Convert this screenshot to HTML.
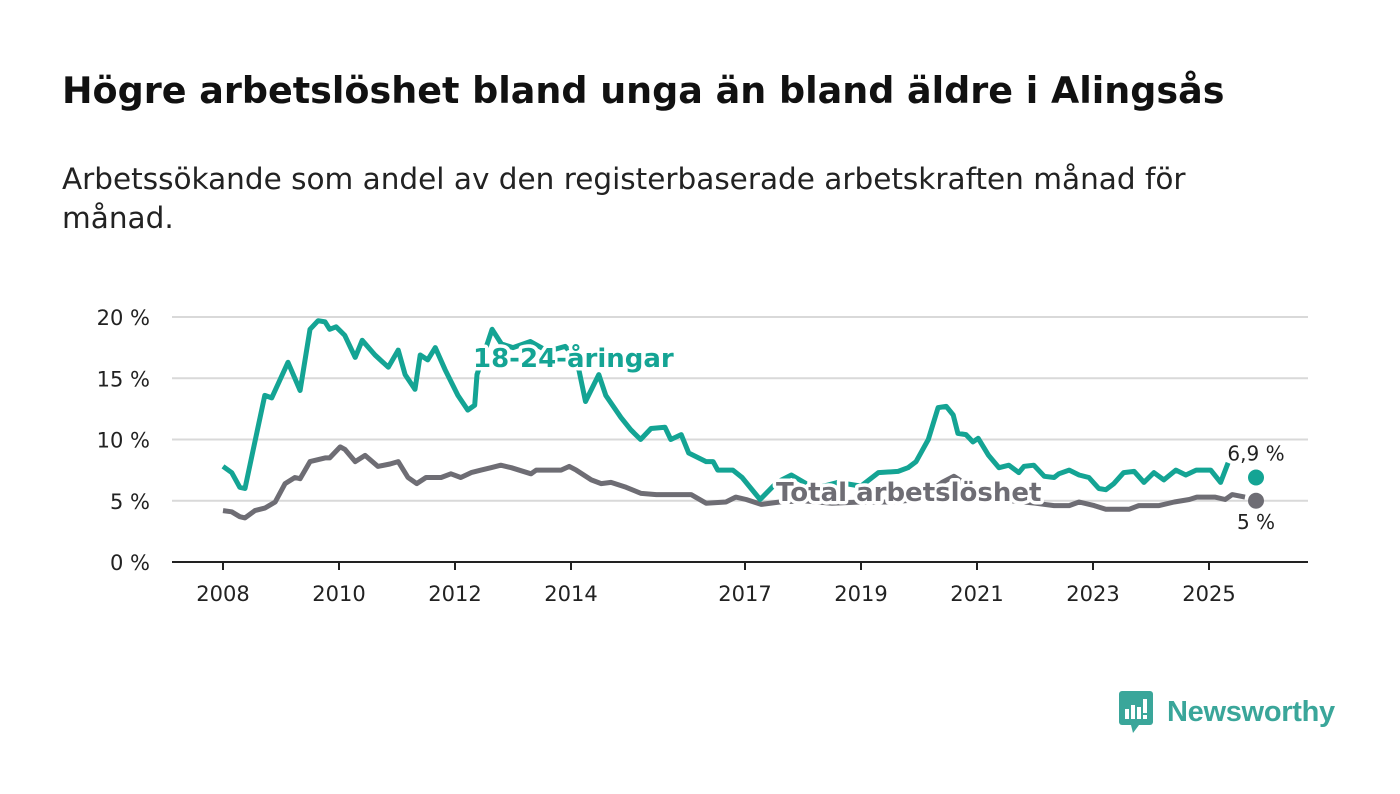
<!DOCTYPE html>
<html><head><meta charset="utf-8">
<style>
body{margin:0;background:#fff;font-family:"DejaVu Sans","Liberation Sans",sans-serif;}
#wrap{position:relative;width:1400px;height:794px;overflow:hidden;}
h1{position:absolute;left:62px;top:69px;margin:0;font-size:36.5px;font-weight:bold;color:#111;white-space:nowrap;}
.sub{position:absolute;left:62px;top:160px;margin:0;font-size:29.5px;line-height:39px;color:#222;width:1300px;white-space:nowrap;}
svg text{font-family:"DejaVu Sans","Liberation Sans",sans-serif;}
</style></head><body>
<div id="wrap">
<h1>Högre arbetslöshet bland unga än bland äldre i Alingsås</h1>
<p class="sub">Arbetssökande som andel av den registerbaserade arbetskraften månad för<br>månad.</p>
<svg id="chart" width="1400" height="794" style="position:absolute;left:0;top:0"></svg>
<div style="position:absolute;left:1119px;top:691px;display:flex;align-items:center;">
<svg width="36" height="42"><rect x="0" y="0" width="34" height="34" rx="3" fill="#3aa69a"/><polygon points="12,34 20,34 14,42" fill="#3aa69a"/><rect x="6" y="18" width="4" height="10" fill="#fff"/><rect x="12" y="14" width="4" height="14" fill="#fff"/><rect x="18" y="16" width="4" height="12" fill="#fff"/><rect x="24" y="8" width="4" height="14" fill="#fff"/><rect x="24" y="24" width="4" height="4" fill="#fff"/></svg>
<span style="font-family:'Liberation Sans',sans-serif;font-size:29px;color:#3aa69a;font-weight:bold;margin-left:12px;letter-spacing:-0.3px">Newsworthy</span>
</div>
</div>
<script>
const yTicks=[0,5,10,15,20];
const yTickLabels=["0 %","5 %","10 %","15 %","20 %"];
const xTicks=[2008,2010,2012,2014,2017,2019,2021,2023,2025];
const youthDates=[2008.0,2008.15,2008.29,2008.38,2008.5,2008.72,2008.84,2009.12,2009.33,2009.5,2009.64,2009.76,2009.84,2009.95,2010.1,2010.28,2010.4,2010.62,2010.85,2011.02,2011.14,2011.31,2011.4,2011.53,2011.66,2011.83,2012.05,2012.22,2012.34,2012.38,2012.64,2012.8,2013.0,2013.3,2013.6,2013.9,2014.1,2014.25,2014.48,2014.6,2014.86,2015.03,2015.2,2015.38,2015.62,2015.72,2015.9,2016.03,2016.33,2016.45,2016.53,2016.79,2016.95,2017.26,2017.55,2017.8,2018.2,2018.6,2019.0,2019.3,2019.64,2019.81,2019.95,2020.16,2020.33,2020.47,2020.59,2020.67,2020.81,2020.93,2021.02,2021.2,2021.38,2021.55,2021.72,2021.81,2021.98,2022.16,2022.33,2022.41,2022.59,2022.76,2022.93,2023.1,2023.22,2023.36,2023.53,2023.71,2023.88,2024.05,2024.22,2024.43,2024.6,2024.78,2025.03,2025.2,2025.33,2025.6];
const youthValues=[7.8,7.3,6.1,6.0,8.7,13.6,13.4,16.3,14.0,19.0,19.7,19.6,19.0,19.2,18.5,16.7,18.1,16.9,15.9,17.3,15.3,14.1,16.9,16.5,17.5,15.7,13.6,12.4,12.8,15.3,19.0,17.8,17.5,18.0,17.2,17.6,16.5,13.1,15.3,13.6,11.8,10.8,10.0,10.9,11.0,10.0,10.4,8.9,8.2,8.2,7.5,7.5,6.9,5.1,6.5,7.1,6.0,6.5,6.2,7.3,7.4,7.7,8.2,10.0,12.6,12.7,12.0,10.5,10.4,9.8,10.1,8.7,7.7,7.9,7.3,7.8,7.9,7.0,6.9,7.2,7.5,7.1,6.9,6.0,5.9,6.4,7.3,7.4,6.5,7.3,6.7,7.5,7.1,7.5,7.5,6.5,8.1,6.9];
const totalDates=[2008.0,2008.15,2008.29,2008.38,2008.55,2008.72,2008.9,2009.07,2009.24,2009.33,2009.5,2009.76,2009.84,2010.02,2010.1,2010.28,2010.45,2010.67,2010.88,2011.02,2011.19,2011.34,2011.5,2011.76,2011.93,2012.1,2012.28,2012.45,2012.62,2012.79,2012.97,2013.31,2013.4,2013.83,2013.97,2014.09,2014.35,2014.52,2014.69,2014.95,2015.21,2015.47,2015.9,2016.07,2016.33,2016.67,2016.84,2017.02,2017.28,2017.6,2018.0,2018.5,2019.0,2019.5,2020.0,2020.4,2020.6,2020.8,2021.2,2021.6,2022.0,2022.33,2022.59,2022.76,2023.02,2023.22,2023.62,2023.79,2024.14,2024.4,2024.66,2024.79,2025.1,2025.28,2025.4,2025.62,2025.6];
const totalValues=[4.2,4.1,3.7,3.6,4.2,4.4,4.9,6.4,6.9,6.8,8.2,8.5,8.5,9.4,9.2,8.2,8.7,7.8,8.0,8.2,6.9,6.4,6.9,6.9,7.2,6.9,7.3,7.5,7.7,7.9,7.7,7.2,7.5,7.5,7.8,7.5,6.7,6.4,6.5,6.1,5.6,5.5,5.5,5.5,4.8,4.9,5.3,5.1,4.7,4.9,5.0,4.8,4.9,4.9,5.1,6.5,7.0,6.4,5.2,5.0,4.8,4.6,4.6,4.9,4.6,4.3,4.3,4.6,4.6,4.9,5.1,5.3,5.3,5.1,5.5,5.3,5.0];

const svg=document.getElementById('chart');
const NS='http://www.w3.org/2000/svg';
const X0=172,X1=1308,Y0=562,PX=12.25;
function xs(t){return 223+(t-2008)*58;}
function ys(v){return Y0-v*PX;}
function mk(tag,attrs,parent){const e=document.createElementNS(NS,tag);for(const k in attrs)e.setAttribute(k,attrs[k]);(parent||svg).appendChild(e);return e;}

yTicks.forEach((t,i)=>{
  if(t>0){const g=mk('line',{x1:X0,x2:X1,y1:ys(t),y2:ys(t),stroke:'#d9d9d9','stroke-width':2});
  
  }
  const l=mk('text',{x:150,y:ys(t)+8,'text-anchor':'end','font-size':21,fill:'#222'});
  l.textContent=yTickLabels[i];
  
  
});
const ax=mk('line',{x1:X0,x2:X1,y1:Y0,y2:Y0,stroke:'#222','stroke-width':2});


xTicks.forEach(t=>{
  const tk=mk('line',{x1:xs(t),x2:xs(t),y1:Y0,y2:Y0+8,stroke:'#222','stroke-width':2});
  
  
  const l=mk('text',{x:xs(t),y:601,'text-anchor':'middle','font-size':21,fill:'#222'});
  l.textContent=t;
  
  
});
function path(d,v){return d.map((t,i)=>(i?'L':'M')+xs(t).toFixed(1)+','+ys(v[i]).toFixed(1)).join('');}
const tl=mk('path',{d:path(totalDates.slice(0,-1),totalValues.slice(0,-1)),fill:'none',stroke:'#6e6d74','stroke-width':5,'stroke-linejoin':'round'});


const yl=mk('path',{d:path(youthDates.slice(0,-1),youthValues.slice(0,-1)),fill:'none',stroke:'#14a494','stroke-width':5,'stroke-linejoin':'round'});


const lv=youthValues[youthValues.length-1];
const tv=totalValues[totalValues.length-1];
const dx=1256;
const yd=mk('circle',{cx:dx,cy:ys(lv),r:8,fill:'#14a494'});


const td2=mk('circle',{cx:dx,cy:ys(tv),r:8,fill:'#6e6d74'});


const yv=mk('text',{x:dx,y:ys(lv)-17,'text-anchor':'middle','font-size':20,fill:'#222',stroke:'#fff','stroke-width':4,'paint-order':'stroke'});
yv.textContent=String(lv).replace('.',',')+' %';


const tvl=mk('text',{x:dx,y:ys(tv)+28,'text-anchor':'middle','font-size':20,fill:'#222',stroke:'#fff','stroke-width':4,'paint-order':'stroke'});
tvl.textContent=String(tv).replace('.',',')+' %';


const l1=mk('text',{x:473,y:367,'font-size':26,'font-weight':'bold',fill:'#14a494',stroke:'#fff','stroke-width':7,'paint-order':'stroke','stroke-linejoin':'round'});
l1.textContent='18-24-åringar';


const l2=mk('text',{x:776,y:501,'font-size':26,'font-weight':'bold',fill:'#6e6d74',stroke:'#fff','stroke-width':7,'paint-order':'stroke','stroke-linejoin':'round'});
l2.textContent='Total arbetslöshet';


</script>
</body></html>
